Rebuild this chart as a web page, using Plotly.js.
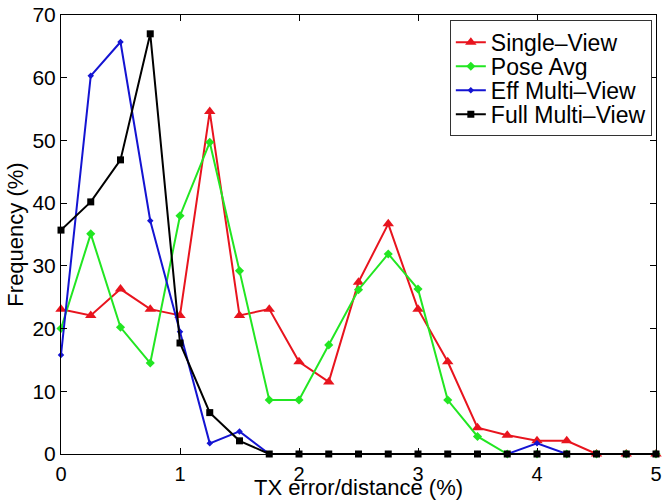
<!DOCTYPE html>
<html>
<head>
<meta charset="utf-8">
<script src="https://cdn.plot.ly/plotly-3.0.1.min.js"></script>
<style>html,body{margin:0;padding:0;background:#fff;}#chart{width:662px;height:500px;}</style>
</head>
<body>
<div id="chart"></div>
<script>
const xVals = [0,0.25,0.5,0.75,1,1.25,1.5,1.75,2,2.25,2.5,2.75,3,3.25,3.5,3.75,4,4.25,4.5,4.75,5];
const singleView = [23.1,22.1,26.3,23.1,22.1,54.6,22.1,23.1,14.7,11.5,27.4,36.7,23.1,14.7,4.2,3.0,2.1,2.1,0,0,0];
const poseAvg = [20.0,35.1,20.2,14.5,38.0,49.7,29.2,8.6,8.6,17.4,26.2,31.9,26.3,8.6,2.8,0,0,0,0,0,0];
const effMulti = [15.8,60.3,65.7,37.2,19.5,1.7,3.6,0,0,0,0,0,0,0,0,0,1.7,0,0,0,0];
const fullMulti = [35.7,40.2,46.9,67.0,17.7,6.6,2.1,0,0,0,0,0,0,0,0,0,0,0,0,0,0];
const seriesNames = ["Single\u2013View","Pose Avg","Eff Multi\u2013View","Full Multi\u2013View"];
const xTicks = [0,1,2,3,4,5];
const yTicks = [0,10,20,30,40,50,60,70];

const traces = [
  {x: xVals, y: singleView, name: seriesNames[0], mode: 'lines+markers', cliponaxis: false,
   line: {color: '#e8141e', width: 2}, marker: {symbol: 'triangle-up', size: 10, color: '#e8141e'}},
  {x: xVals, y: poseAvg, name: seriesNames[1], mode: 'lines+markers', cliponaxis: false,
   line: {color: '#22e622', width: 2}, marker: {symbol: 'diamond', size: 7, color: '#22e622'}},
  {x: xVals, y: effMulti, name: seriesNames[2], mode: 'lines+markers', cliponaxis: false,
   line: {color: '#1414d2', width: 2}, marker: {symbol: 'diamond', size: 5, color: '#1414d2'}},
  {x: xVals, y: fullMulti, name: seriesNames[3], mode: 'lines+markers', cliponaxis: false,
   line: {color: '#000000', width: 2}, marker: {symbol: 'square', size: 7, color: '#000000'}}
];

const fontFam = '"Liberation Sans", Arial, sans-serif';
const layout = {
  width: 662, height: 500,
  margin: {l: 61, r: 6, t: 15, b: 46},
  paper_bgcolor: '#fff', plot_bgcolor: '#fff',
  font: {family: fontFam, color: '#000'},
  showlegend: true,
  legend: {x: 0.993, y: 0.989, xanchor: 'right', yanchor: 'top', xref: 'paper', yref: 'paper',
    bgcolor: '#fff', bordercolor: '#333', borderwidth: 1,
    font: {family: fontFam, size: 23, color: '#000'}, tracegroupgap: 0, itemwidth: 30},
  xaxis: {range: [0, 5], tickvals: xTicks, ticktext: xTicks.map(String),
    showgrid: false, zeroline: false, showline: true, linecolor: '#000', linewidth: 1,
    mirror: 'ticks', ticks: 'inside', ticklen: 6, tickcolor: '#000',
    ticklabeloverflow: 'allow', ticklabelstandoff: 2,
    tickfont: {family: fontFam, size: 20}, title: {text: 'TX error/distance (%)', font: {family: fontFam, size: 22}, standoff: 0}},
  yaxis: {range: [0, 70], tickvals: yTicks, ticktext: yTicks.map(String),
    showgrid: false, zeroline: false, showline: true, linecolor: '#000', linewidth: 1,
    mirror: 'ticks', ticks: 'inside', ticklen: 6, tickcolor: '#000',
    tickfont: {family: fontFam, size: 21}, title: {text: 'Frequency (%)', font: {family: fontFam, size: 22}, standoff: 2}}
};

Plotly.newPlot('chart', traces, layout, {displayModeBar: false, staticPlot: true}).then(function (gd) {
  // tighten legend row spacing to match the reference's compact legend
  const items = gd.querySelectorAll('.legend .traces');
  if (!items.length) return;
  const parse = el => {
    const m = /translate\(\s*([-\d.]+)[ ,]+([-\d.]+)\s*\)/.exec(el.getAttribute('transform') || '');
    return m ? [parseFloat(m[1]), parseFloat(m[2])] : [0, 0];
  };
  const first = parse(items[0]);
  const step = 24;
  items.forEach((el, i) => {
    const p = parse(el);
    el.setAttribute('transform', 'translate(' + p[0] + ',' + (first[1] + i * step) + ')');
  });
  const bg = gd.querySelector('.legend .bg');
  if (bg) {
    const h = 2 * first[1] + (items.length - 1) * step - 2;
    bg.setAttribute('height', h);
  }
});
</script>
</body>
</html>
